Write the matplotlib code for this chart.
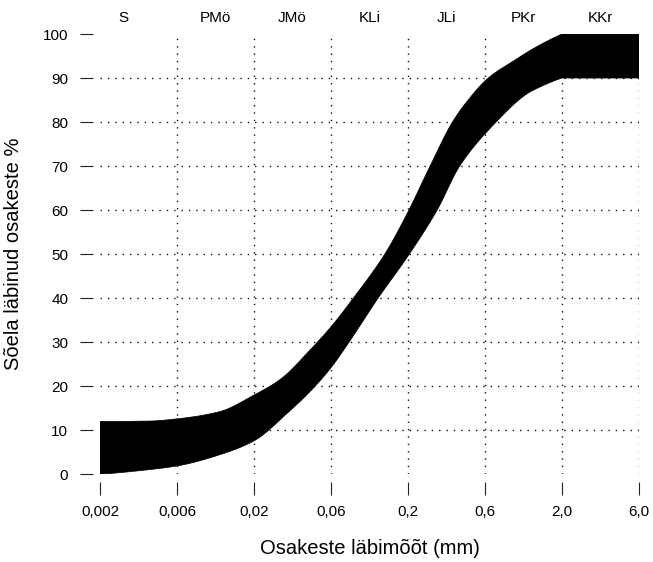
import numpy as np
import matplotlib
matplotlib.use("Agg")
import matplotlib.pyplot as plt

plt.rcParams['font.family'] = ['Liberation Sans', 'DejaVu Sans']

# --- data -------------------------------------------------------------
x_ticks = [0.002, 0.006, 0.02, 0.06, 0.2, 0.6, 2.0, 6.0]
x_tick_labels = ["0,002", "0,006", "0,02", "0,06", "0,2", "0,6", "2,0", "6,0"]
y_ticks = [0, 10, 20, 30, 40, 50, 60, 70, 80, 90, 100]

fractions = ["S", "PMö", "JMö", "KLi", "JLi", "PKr", "KKr"]

# upper boundary of the grading envelope (mm, % passing)
upper_x = [0.002, 0.0041, 0.006, 0.0116, 0.02, 0.0292, 0.0444, 0.06,
           0.085, 0.139, 0.2, 0.274, 0.377, 0.46, 0.631, 0.95, 1.295, 2.0, 6.0]
upper_y = [12.0, 12.1, 12.6, 14.2, 18.0, 21.6, 28.2, 33.5,
           40.0, 50.0, 59.6, 70.0, 80.0, 84.5, 90.0, 94.0, 96.8, 100.0, 100.0]

# lower boundary of the grading envelope (mm, % passing)
lower_x = [0.002, 0.00347, 0.006, 0.0116, 0.02, 0.032, 0.0467, 0.06,
           0.0795, 0.1253, 0.2037, 0.303, 0.418, 0.714, 1.168, 1.363, 2.0, 6.0]
lower_y = [0.0, 0.8, 1.9, 4.4, 7.6, 13.8, 19.6, 24.2,
           30.0, 40.0, 50.0, 60.0, 70.0, 80.0, 86.5, 87.7, 90.0, 90.0]

# --- scale: tick sizes equally spaced, log-interpolated in between ---------
_lt = np.log10(x_ticks)
_idx = np.arange(len(x_ticks), dtype=float)


def fwd(x):
    x = np.asarray(x, dtype=float)
    lx = np.log10(np.clip(x, 1e-12, None))
    out = np.interp(lx, _lt, _idx)
    lo = lx < _lt[0]
    hi = lx > _lt[-1]
    out = np.where(lo, (lx - _lt[0]) / (_lt[1] - _lt[0]), out)
    out = np.where(hi, _idx[-1] + (lx - _lt[-1]) / (_lt[-1] - _lt[-2]), out)
    return out


def inv(p):
    p = np.asarray(p, dtype=float)
    out = np.interp(p, _idx, _lt)
    out = np.where(p < 0, _lt[0] + p * (_lt[1] - _lt[0]), out)
    out = np.where(p > _idx[-1], _lt[-1] + (p - _idx[-1]) * (_lt[-1] - _lt[-2]), out)
    return 10 ** out


def _pchip(xk, yk, xn):
    """Monotone (Fritsch-Carlson) cubic curve through the read points."""
    xk = np.asarray(xk, float)
    yk = np.asarray(yk, float)
    h = np.diff(xk)
    d = np.diff(yk) / h
    n = len(xk)
    m = np.zeros(n)
    for k in range(1, n - 1):
        if d[k - 1] * d[k] > 0:
            w1 = 2 * h[k] + h[k - 1]
            w2 = h[k] + 2 * h[k - 1]
            m[k] = (w1 + w2) / (w1 / d[k - 1] + w2 / d[k])

    def _end(h0, h1, d0, d1):
        v = ((2 * h0 + h1) * d0 - h0 * d1) / (h0 + h1)
        if np.sign(v) != np.sign(d0):
            v = 0.0
        elif np.sign(d0) != np.sign(d1) and abs(v) > abs(3 * d0):
            v = 3 * d0
        return v

    m[0] = _end(h[0], h[1], d[0], d[1])
    m[-1] = _end(h[-1], h[-2], d[-1], d[-2])
    i = np.clip(np.searchsorted(xk, xn) - 1, 0, n - 2)
    t = (xn - xk[i]) / h[i]
    h00 = 2 * t**3 - 3 * t**2 + 1
    h10 = t**3 - 2 * t**2 + t
    h01 = -2 * t**3 + 3 * t**2
    h11 = t**3 - t**2
    return h00 * yk[i] + h10 * h[i] * m[i] + h01 * yk[i + 1] + h11 * h[i] * m[i + 1]


def smooth_edge(xs, ys):
    # smooth part up to 2,0 mm, then the flat plateau straight to 6,0 mm
    p = fwd(np.array(xs[:-1]))
    pn = np.linspace(p[0], p[-1], 400)
    yn = _pchip(p, ys[:-1], pn)
    xn = inv(pn)
    return list(xn) + [xs[-1]], list(yn) + [ys[-1]]


# --- figure -----------------------------------------------------------
fig = plt.figure(figsize=(6.53, 5.62), dpi=100)
ax = fig.add_axes([100 / 653, 1 - 474.3 / 562, 539 / 653, 440.3 / 562])
ax.set_xscale('function', functions=(fwd, inv))
ax.set_xlim(x_ticks[0], x_ticks[-1])
ax.set_ylim(0, 100)

# grid (dotted)
grid_kw = dict(color='#111111', linewidth=1.0, linestyle=(0, (1, 4.3)), zorder=1)
ax.hlines(y_ticks[1:-1], x_ticks[0], x_ticks[-1], **grid_kw)
ax.vlines(x_ticks[1:], 0, 100, **grid_kw)

# envelope band
ux, uy = smooth_edge(upper_x, upper_y)
lx, ly = smooth_edge(lower_x, lower_y)
poly_x = ux + lx[::-1]
poly_y = uy + ly[::-1]
ax.fill(poly_x, poly_y, color='black', linewidth=0.5, edgecolor='black', zorder=3)

# axes styling (R-like detached axes)
for s in ['top', 'right']:
    ax.spines[s].set_visible(False)
ax.spines['left'].set_position(('outward', 5.3))
ax.spines['bottom'].set_position(('outward', 5.8))
ax.spines['left'].set_color('none')
ax.spines['bottom'].set_color('none')

ax.set_xticks(x_ticks)
ax.set_xticklabels(x_tick_labels)
ax.xaxis.set_minor_locator(matplotlib.ticker.NullLocator())
ax.set_yticks(y_ticks)
ax.tick_params(axis='both', direction='out', length=9.6, width=0.8,
               color='#222222', labelsize=11, labelcolor='black')
ax.tick_params(axis='y', pad=8)
ax.tick_params(axis='x', pad=7)

ax.set_xlabel("Osakeste läbimõõt (mm)", fontsize=14.5, labelpad=14)
ax.set_ylabel("Sõela läbinud osakeste %", fontsize=14.5, labelpad=14)

# fraction names along the top
label_pos = [0.31, 1.5, 2.5, 3.5, 4.5, 5.5, 6.5]
for name, p in zip(fractions, label_pos):
    ax.text(inv(p), 1.0 + 16 / 440.3, name, transform=ax.get_xaxis_transform(),
            ha='center', va='center', fontsize=11)

fig.savefig("out.png", dpi=100)
